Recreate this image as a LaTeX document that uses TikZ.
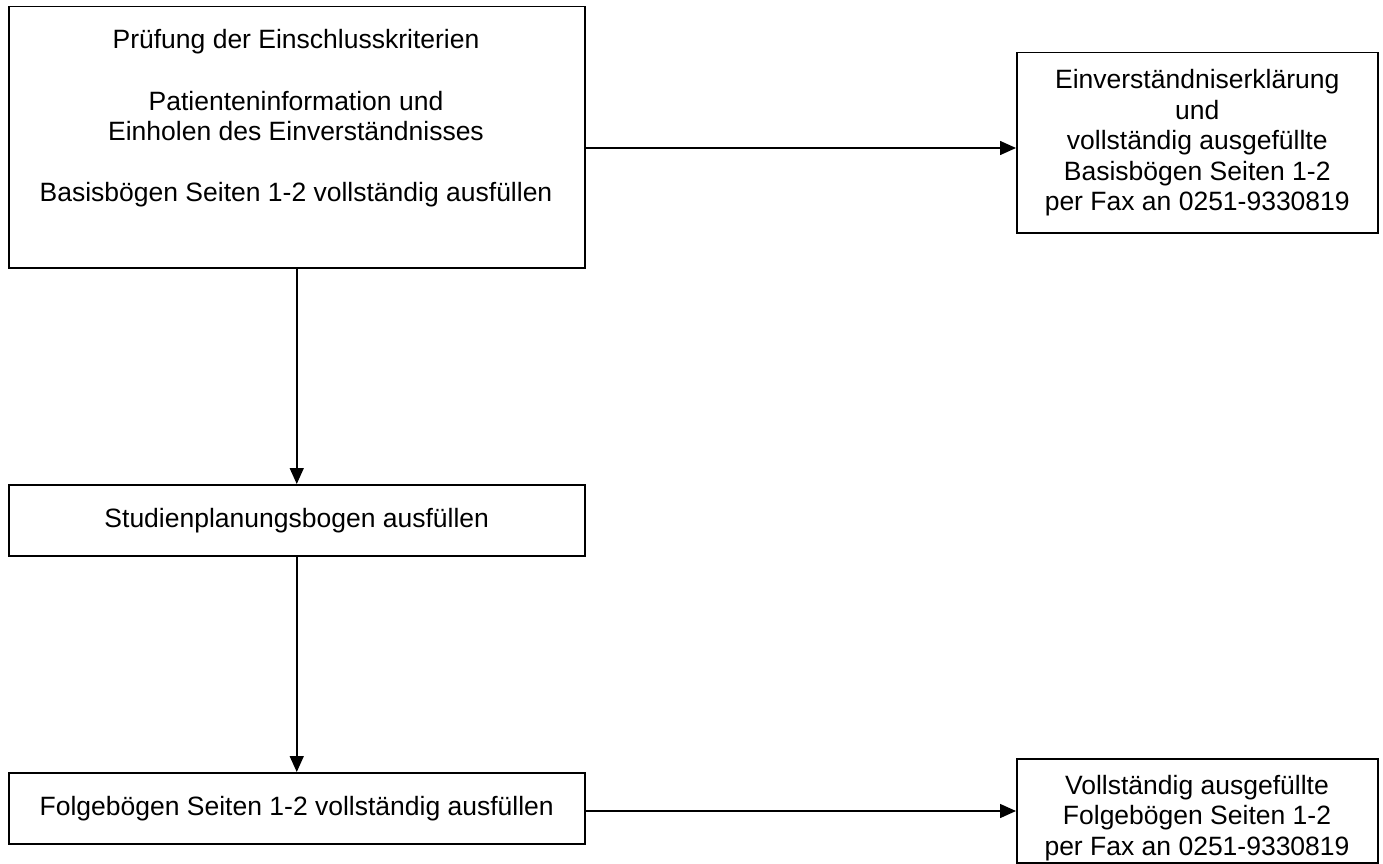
\documentclass[tikz,border=0pt]{standalone}
\usepackage{fontspec}
\setmainfont{Liberation Sans}
\usetikzlibrary{arrows.meta}
\begin{document}
\begin{tikzpicture}[x=1pt,y=-1pt,
  box/.style={draw=black,line width=1.5pt,rectangle,inner sep=0pt,anchor=north west},
  txt/.style={align=center,inner sep=0pt,font=\fontsize{26.5}{30.6}\selectfont},
  arr/.style={draw=black,line width=1.5pt,-{Triangle[length=16pt,width=14pt]}}]
\useasboundingbox (0,0) rectangle (1383,864);
% boxes
\node[box,minimum width=576pt,minimum height=261pt] (b1) at (8,6) {};
\node[box,minimum width=361pt,minimum height=180pt] (b2) at (1016,52) {};
\node[box,minimum width=576pt,minimum height=71pt] (b3) at (8,484) {};
\node[box,minimum width=576pt,minimum height=71pt] (b4) at (8,772) {};
\node[box,minimum width=361pt,minimum height=104pt] (b5) at (1016,758) {};
% texts
\node[txt] (t1) at (296,118.5) {Prüfung der Einschlusskriterien\\[30.6pt]Patienteninformation und\\Einholen des Einverständnisses\\[30.6pt]Basisbögen Seiten 1-2 vollständig ausfüllen};
\node[txt] (t2) at (b2.center) {Einverständniserklärung\\und\\vollständig ausgefüllte\\Basisbögen Seiten 1-2\\per Fax an 0251-9330819};
\node[txt] (t3) at (b3.center) {Studienplanungsbogen ausfüllen};
\node[txt] (t4) at (b4.center) {Folgebögen Seiten 1-2 vollständig ausfüllen};
\node[txt] (t5) at (1197,818) {Vollständig ausgefüllte\\Folgebögen Seiten 1-2\\per Fax an 0251-9330819};
% connectors
\coordinate (c1) at (0,148);
\coordinate (c2) at (0,811);
\draw[arr] (b1.east |- c1) -- (b2.west |- c1);
\draw[arr] (b1.south) -- (b3.north);
\draw[arr] (b3.south) -- (b4.north);
\draw[arr] (b4.east |- c2) -- (b5.west |- c2);
\end{tikzpicture}
\end{document}
